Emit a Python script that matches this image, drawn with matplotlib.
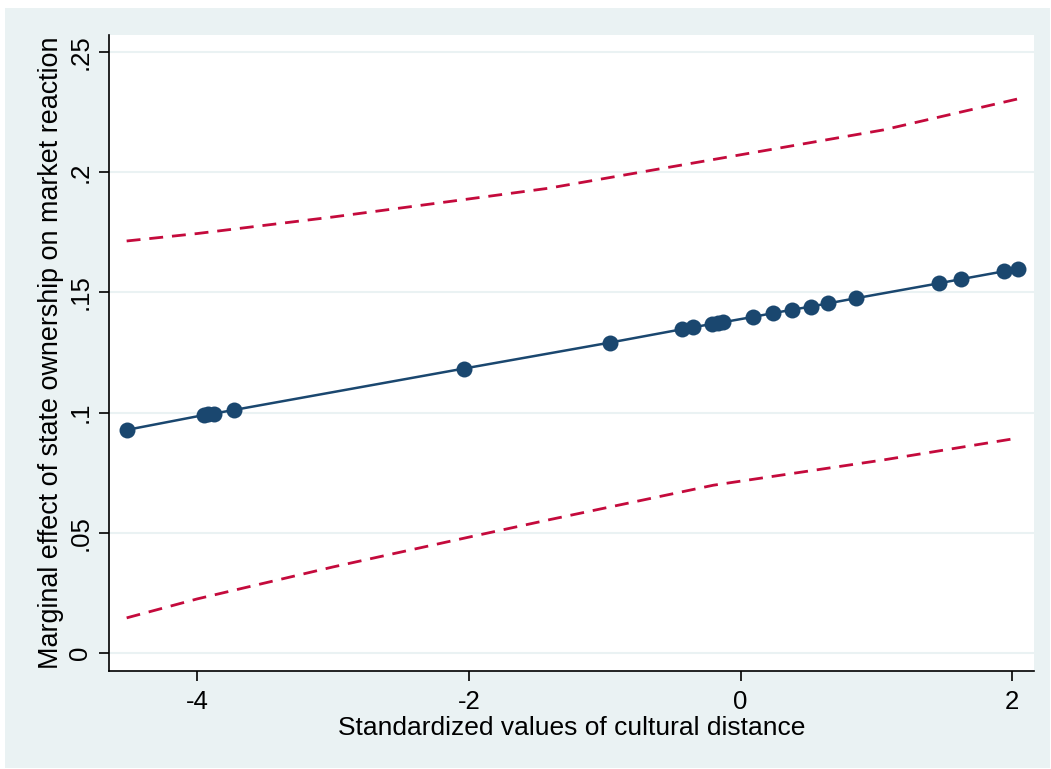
import matplotlib.pyplot as plt
from matplotlib.patches import Rectangle

# marginal effect at each observed value of cultural distance
dist_x = [-4.52, -3.95, -3.92, -3.88, -3.73, -2.04, -0.965, -0.43, -0.35,
          -0.21, -0.17, -0.13, 0.09, 0.24, 0.38, 0.515, 0.64, 0.85,
          1.46, 1.62, 1.94, 2.04]
effect_y = [0.0928, 0.0990, 0.0993, 0.0996, 0.1011, 0.1183, 0.1291, 0.1347, 0.1355,
            0.1369, 0.1373, 0.1376, 0.1398, 0.1414, 0.1428, 0.1441, 0.1454, 0.1476,
            0.1538, 0.1555, 0.1588, 0.1598]

# 95% confidence band
ci_x = [-4.52, -4.0, -3.0, -2.0, -1.42, -0.2, 1.05, 2.04]
ci_hi = [0.1714, 0.1745, 0.1814, 0.1889, 0.1933, 0.2053, 0.2176, 0.2305]
ci_lo = [0.0146, 0.0225, 0.0358, 0.0482, 0.0553, 0.0698, 0.0803, 0.0894]

yticks = [0, 0.05, 0.1, 0.15, 0.2, 0.25]
ytick_labels = ['0', '.05', '.1', '.15', '.2', '.25']
xticks = [-4, -2, 0, 2]

plt.rcParams['font.family'] = ['Liberation Sans', 'DejaVu Sans']

fig = plt.figure(figsize=(10.51, 7.69), dpi=100, facecolor='white')
fig.patches.append(Rectangle((5 / 1051, 1 / 769), 1045 / 1051, 760 / 769,
                             transform=fig.transFigure, facecolor='#EAF2F3',
                             edgecolor='none', zorder=-10))

ax = fig.add_axes([109 / 1051, 98 / 769, 925 / 1051, 636 / 769])
ax.set_facecolor('white')

navy = '#1A476F'
red = '#C40A3C'

ax.plot(ci_x, ci_hi, color=red, lw=2.0, linestyle=(0, (5, 3.2)), zorder=2)
ax.plot(ci_x, ci_lo, color=red, lw=2.0, linestyle=(0, (5, 3.2)), zorder=2)
ax.plot(dist_x, effect_y, color=navy, lw=1.8, marker='o', markersize=11.5,
        markeredgewidth=0, zorder=3)

ax.set_xlim(-4.65, 2.16)
ax.set_ylim(-0.0075, 0.2571)
ax.set_yticks(yticks)
ax.set_yticklabels(ytick_labels, rotation=90, va='center')
ax.set_xticks(xticks)
ax.set_xticklabels([str(v) for v in xticks])

ax.grid(axis='y', color='#EAF2F3', lw=1.5, zorder=0)
ax.set_axisbelow(True)
for side in ['top', 'right']:
    ax.spines[side].set_visible(False)
for side in ['left', 'bottom']:
    ax.spines[side].set_color('black')
    ax.spines[side].set_linewidth(1.2)

ax.tick_params(axis='both', direction='out', length=7, width=1.2,
               labelsize=18.5, colors='black')
ax.tick_params(axis='x', pad=7)
ax.tick_params(axis='y', pad=5)

ax.set_xlabel('Standardized values of cultural distance', fontsize=19, labelpad=1)
ax.set_ylabel('Marginal effect of state ownership on market reaction', fontsize=19.4,
              labelpad=3)

fig.savefig('out.png', dpi=100, facecolor=fig.get_facecolor())
